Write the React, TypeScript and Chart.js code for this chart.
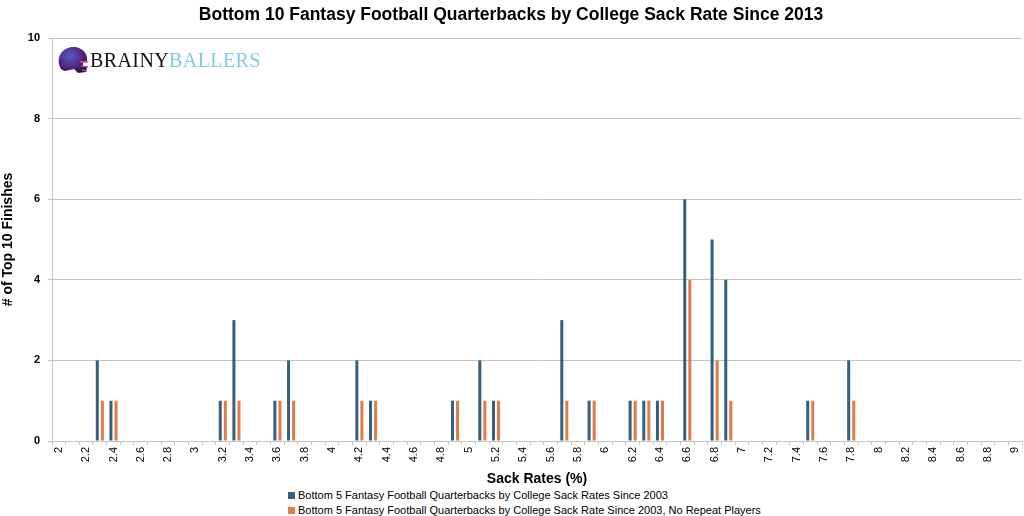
import React, { useEffect, useRef } from "react";
import { Chart, registerables } from "chart.js";

Chart.register(...registerables);

const sackRates: string[] = [];
for (let i = 20; i <= 90; i++) {
  const v = i / 10;
  sackRates.push(String(v));
}

// values keyed by sack rate
const seriesAllPoints: Record<string, number> = {
  "2.3": 2, "2.4": 1, "3.2": 1, "3.3": 3, "3.6": 1, "3.7": 2,
  "4.2": 2, "4.3": 1, "4.9": 1, "5.1": 2, "5.2": 1, "5.7": 3,
  "5.9": 1, "6.2": 1, "6.3": 1, "6.4": 1, "6.6": 6, "6.8": 5,
  "6.9": 4, "7.5": 1, "7.8": 2,
};
const seriesNoRepeatPoints: Record<string, number> = {
  "2.3": 1, "2.4": 1, "3.2": 1, "3.3": 1, "3.6": 1, "3.7": 1,
  "4.2": 1, "4.3": 1, "4.9": 1, "5.1": 1, "5.2": 1, "5.7": 1,
  "5.9": 1, "6.2": 1, "6.3": 1, "6.4": 1, "6.6": 4, "6.8": 2,
  "6.9": 1, "7.5": 1, "7.8": 1,
};

const seriesAll = sackRates.map((r) => seriesAllPoints[r] ?? 0);
const seriesNoRepeat = sackRates.map((r) => seriesNoRepeatPoints[r] ?? 0);

const legendLabels = [
  "Bottom 5 Fantasy Football Quarterbacks by College Sack Rates Since 2003",
  "Bottom 5 Fantasy Football Quarterbacks by College Sack Rate Since 2003, No Repeat Players",
];
const BLUE = "#35607f";
const ORANGE = "#e07c4a";
const FONT = "'Liberation Sans', Arial, Helvetica, sans-serif";

export default function App() {
  const ref = useRef<HTMLCanvasElement | null>(null);
  useEffect(() => {
    if (!ref.current) return;
    const chart = new Chart(ref.current, {
      type: "bar",
      data: {
        labels: sackRates,
        datasets: [
          { label: legendLabels[0], data: seriesAll, backgroundColor: BLUE, categoryPercentage: 0.74, barPercentage: 0.6 },
          { label: legendLabels[1], data: seriesNoRepeat, backgroundColor: ORANGE, categoryPercentage: 0.74, barPercentage: 0.6 },
        ],
      },
      options: {
        animation: false,
        responsive: false,
        maintainAspectRatio: false,
        layout: { padding: { left: 0, right: 2, top: 0, bottom: 0 } },
        plugins: {
          legend: { display: false },
          tooltip: { enabled: false },
          title: {
            display: true,
            text: "Bottom 10 Fantasy Football Quarterbacks by College Sack Rate Since 2013",
            color: "#000",
            font: { family: FONT, size: 17.5, weight: "bold" },
            padding: { top: 5, bottom: 12 },
          },
        },
        scales: {
          x: {
            type: "category",
            offset: true,
            ticks: {
              autoSkip: false,
              maxRotation: 90,
              minRotation: 90,
              color: "#000",
              padding: 2,
              font: { family: FONT, size: 11 },
              callback: (_v: any, i: number) => (i % 2 === 0 ? sackRates[i] : ""),
            },
            grid: { drawOnChartArea: false, drawTicks: true, tickLength: 4, color: "#c4c4c4" },
            border: { color: "#c4c4c4" },
            title: {
              display: true,
              text: "Sack Rates (%)",
              color: "#000",
              font: { family: FONT, size: 14, weight: "bold" },
              padding: { top: 0, bottom: 0 },
            },
            afterFit: (s: any) => { s.height = 47; s.paddingRight = 0; s.paddingLeft = 0; },
          },
          y: {
            min: 0,
            max: 10,
            ticks: {
              stepSize: 2,
              color: "#000",
              padding: 8,
              font: { family: FONT, size: 11, weight: "bold" },
            },
            grid: { color: "#c4c4c4", tickLength: 4, lineWidth: 1 },
            border: { color: "#c4c4c4" },
            title: {
              display: true,
              text: "# of Top 10 Finishes",
              color: "#000",
              font: { family: FONT, size: 14, weight: "bold" },
              padding: { top: 0, bottom: 2 },
            },
            afterFit: (s: any) => { s.width = 52; },
          },
        },
      },
    });
    return () => chart.destroy();
  }, []);

  return (
    <div style={{ position: "fixed", left: 0, top: 0, width: 1024, height: 516, background: "#fff", overflow: "hidden" }}>
      <canvas ref={ref} width={1024} height={488} style={{ position: "absolute", left: 0, top: 0, width: 1024, height: 488 }} />
      <div style={{ position: "absolute", left: 56, top: 44, display: "flex", alignItems: "center" }}>
        <svg width="34" height="32" viewBox="0 0 34 32">
          <defs>
            <radialGradient id="hg" cx="40%" cy="35%" r="70%">
              <stop offset="0%" stopColor="#4a5fc8" />
              <stop offset="55%" stopColor="#5a2a8a" />
              <stop offset="100%" stopColor="#2a1040" />
            </radialGradient>
          </defs>
          <path d="M3 20 C1 9 10 2 19 3 C27 4 32 10 31 17 L27 18 L27 22 L31 23 L30 28 L22 29 L18 25 L9 27 C5 26 4 24 3 20 Z" fill="url(#hg)" />
          <path d="M24 18 L32 18 M25 22 L32 23 M26 26 L31 27" stroke="#d04a9a" strokeWidth="1.5" />
        </svg>
        <span style={{ fontFamily: "'Liberation Serif', 'DejaVu Serif', serif", fontSize: 20, lineHeight: "20px", marginLeft: 0, letterSpacing: 0.4 }}>
          <span style={{ color: "#111" }}>BRAINY</span>
          <span style={{ color: "#7ecbe2" }}>BALLERS</span>
        </span>
      </div>
      <div style={{ position: "absolute", left: 288, top: 488, fontFamily: FONT, fontSize: 11, color: "#000", lineHeight: "15px" }}>
        {legendLabels.map((l, i) => (
          <div key={i} style={{ display: "flex", alignItems: "center" }}>
            <span style={{ display: "inline-block", width: 7, height: 7, background: i === 0 ? BLUE : ORANGE, marginRight: 3 }} />
            <span>{l}</span>
          </div>
        ))}
      </div>
    </div>
  );
}
